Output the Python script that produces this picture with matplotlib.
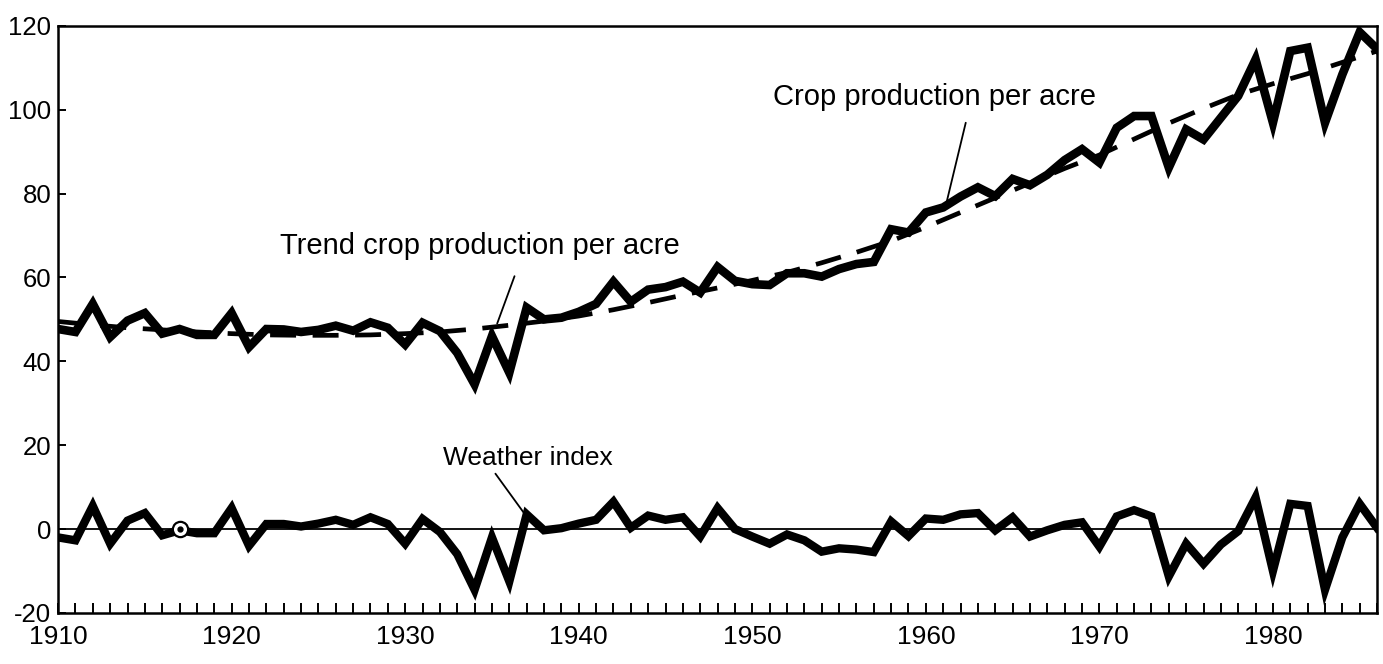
import numpy as np
import matplotlib.pyplot as plt
from matplotlib.ticker import MultipleLocator

plt.rcParams['font.family'] = ['Liberation Sans', 'DejaVu Sans']
plt.rcParams['axes.unicode_minus'] = False

# Values, one per year 1910-1986
years = np.arange(1910, 1987)

crop = [47.7, 47.0, 53.7, 45.8, 49.7, 51.5, 46.6, 47.7, 46.3, 46.3,
        51.5, 43.4, 47.7, 47.6, 47.0, 47.5, 48.5, 47.3, 49.3, 48.0,
        44.0, 49.2, 47.2, 42.0, 34.5, 46.0, 37.3, 52.8, 50.0, 50.4,
        51.8, 53.7, 59.0, 54.2, 57.1, 57.7, 59.0, 56.4, 62.5, 59.2,
        58.4, 58.2, 61.0, 61.0, 60.2, 62.0, 63.2, 63.7, 71.5, 70.7,
        75.5, 76.7, 79.3, 81.5, 79.4, 83.5, 82.0, 84.5, 88.0, 90.6,
        87.4, 95.7, 98.5, 98.5, 86.2, 95.3, 92.9, 98.1, 103.3, 112.0,
        96.9, 114.0, 114.8, 96.9, 108.4, 118.5, 114.5]

trend_years = [1910, 1912, 1914, 1916, 1918, 1920, 1922, 1924, 1926, 1928,
               1930, 1932, 1934, 1936, 1938, 1940, 1942, 1944, 1946, 1948,
               1950, 1952, 1954, 1956, 1958, 1960, 1962, 1964, 1966, 1968,
               1970, 1972, 1974, 1976, 1978, 1980, 1982, 1984, 1986]
trend = [49.5, 48.7, 48.0, 47.5, 47.0, 46.6, 46.3, 46.2, 46.2, 46.3,
         46.6, 47.0, 47.7, 48.6, 49.6, 50.8, 52.3, 54.0, 55.8, 57.5,
         59.3, 61.2, 63.5, 66.0, 68.7, 72.0, 75.5, 79.0, 82.5, 86.0,
         89.2, 93.0, 96.8, 100.3, 103.6, 106.2, 108.6, 111.3, 114.0]

weather = [-2.0, -2.7, 5.5, -3.5, 2.0, 3.8, -1.5, -0.3, -1.0, -1.0,
           5.0, -4.0, 1.2, 1.2, 0.6, 1.3, 2.2, 1.0, 2.8, 1.2,
           -3.5, 2.4, -0.7, -6.0, -14.5, -2.0, -12.5, 3.5, -0.3, 0.2,
           1.3, 2.2, 6.5, 0.3, 3.2, 2.2, 2.8, -1.8, 5.0, 0.0,
           -1.8, -3.5, -1.3, -2.7, -5.4, -4.6, -4.9, -5.5, 1.8, -1.7,
           2.5, 2.2, 3.5, 3.8, -0.3, 2.8, -1.8, -0.3, 1.0, 1.6,
           -4.2, 3.0, 4.5, 3.0, -11.3, -3.5, -8.3, -3.7, -0.5, 7.5,
           -10.0, 6.0, 5.5, -14.5, -2.0, 6.0, 0.3]

# small ring printed on the weather line
ring_x = [1917]
ring_y = [0.0]

fig = plt.figure(figsize=(13.83, 6.64), dpi=100)
ax = fig.add_axes([0.042, 0.077, 0.9537, 0.884])

ax.axhline(0, color='black', lw=1.3, zorder=1)
ax.plot(trend_years, trend, color='black', lw=3.4, dashes=(5.5, 3.5), zorder=2)
ax.plot(years, crop, color='black', lw=6.2, solid_joinstyle='miter', zorder=3)
ax.plot(years, weather, color='black', lw=6.0, solid_joinstyle='miter', zorder=3)
ax.plot(ring_x, ring_y, 'o', ms=11, mfc='white', mec='black', mew=1.6, zorder=4)
ax.plot(ring_x, ring_y, 'o', ms=3.5, color='black', zorder=5)

ax.set_xlim(1910, 1986)
ax.set_ylim(-20, 120)
ax.xaxis.set_major_locator(MultipleLocator(10))
ax.xaxis.set_minor_locator(MultipleLocator(1))
ax.yaxis.set_major_locator(MultipleLocator(20))
ax.tick_params(axis='x', which='both', direction='in', length=7, width=1.4,
               top=False, labelsize=19, pad=9)
ax.tick_params(axis='y', which='both', direction='in', length=6, width=1.4,
               right=False, labelsize=18.5, pad=5)
for s in ax.spines.values():
    s.set_linewidth(1.8)

ax.text(1951.2, 101.1, 'Crop production per acre', fontsize=21, ha='left', va='baseline')
ax.annotate('', xy=(1961.2, 78.0), xytext=(1962.3, 96.9),
            arrowprops=dict(arrowstyle='-', lw=1.3, shrinkA=0, shrinkB=0))

ax.text(1922.8, 65.6, 'Trend crop production per acre', fontsize=21, ha='left', va='baseline')
ax.annotate('', xy=(1935.3, 49.0), xytext=(1936.3, 60.3),
            arrowprops=dict(arrowstyle='-', lw=1.3, shrinkA=0, shrinkB=0))

ax.text(1932.2, 15.25, 'Weather index', fontsize=19, ha='left', va='baseline')
ax.annotate('', xy=(1936.9, 3.5), xytext=(1935.2, 13.2),
            arrowprops=dict(arrowstyle='-', lw=1.3, shrinkA=0, shrinkB=0))

fig.savefig('out.png', dpi=100)
